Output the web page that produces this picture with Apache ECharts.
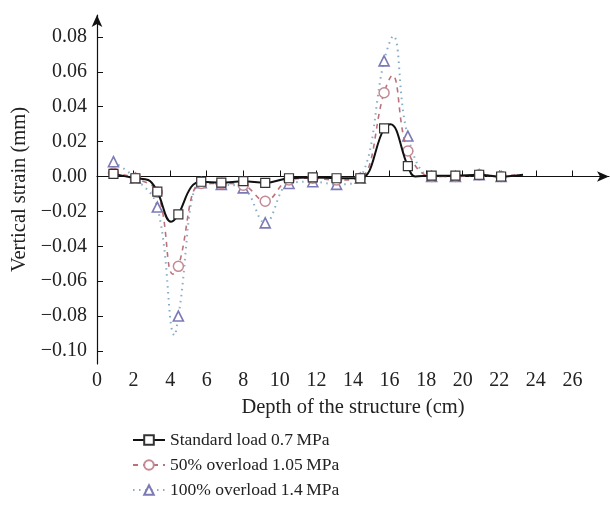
<!DOCTYPE html>
<html>
<head>
<meta charset="utf-8">
<script src="https://cdn.jsdelivr.net/npm/echarts@6/dist/echarts.min.js"></script>
<style>html,body{margin:0;padding:0;background:#fff}#c{width:610px;height:516px}</style>
</head>
<body>
<div id="c"></div>
<script>
// Depth positions of the markers (cm)
const depth = [0.9, 2.1, 3.3, 4.45, 5.7, 6.8, 8.0, 9.2, 10.5, 11.8, 13.1, 14.4, 15.7, 17.0, 18.3, 19.6, 20.9, 22.1];
// Marker values (mm)
const standardLoad = [0.0015, -0.001, -0.0087, -0.0217, -0.003, -0.0035, -0.0027, -0.0036, -0.001, -0.0005, -0.001, -0.001, 0.0276, 0.0059, 0.0005, 0.0005, 0.001, 0.0];
const overload50 = [0.002, -0.001, -0.009, -0.0515, -0.004, -0.004, -0.005, -0.0142, -0.002, -0.001, -0.002, -0.001, 0.048, 0.0146, 0.0, 0.0, 0.001, 0.0];
const overload100 = [0.0085, -0.001, -0.0175, -0.080, -0.0035, -0.0045, -0.0065, -0.0266, -0.004, -0.003, -0.0045, -0.001, 0.0663, 0.0232, 0.0, 0.0, 0.001, 0.0];
// Additional points of each curve between markers (peaks / troughs / end), unmarked
const standardCurve = [[2.8, -0.002], [4.05, -0.026], [5.15, -0.006], [16.05, 0.030], [17.4, 0.0], [23.3, 0.001]];
const overload50Curve = [[4.15, -0.056], [16.15, 0.058], [23.0, 0.001]];
const overload100Curve = [[4.25, -0.091], [16.2, 0.0806], [23.0, 0.001]];
// Axis ticks
const xTicks = [0, 2, 4, 6, 8, 10, 12, 14, 16, 18, 20, 22, 24, 26];
const yTicks = [-0.10, -0.08, -0.06, -0.04, -0.02, 0.00, 0.02, 0.04, 0.06, 0.08];
const seriesNames = ['Standard load 0.7\u2009MPa', '50% overload 1.05\u2009MPa', '100% overload 1.4\u2009MPa'];

function build(xs, ys, extra) {
  const pts = xs.map((x, i) => ({ value: [x, ys[i]] }));
  extra.forEach(p => pts.push({ value: [p[0], p[1]], symbol: 'none' }));
  pts.sort((a, b) => a.value[0] - b.value[0]);
  return pts;
}

const FONT = '"Liberation Serif", "DejaVu Serif", serif';
const chart = echarts.init(document.getElementById('c'));
chart.setOption({
  animation: false,
  backgroundColor: '#fff',
  grid: { left: 97, right: 1, top: 15, bottom: 152, containLabel: false },
  legend: {
    orient: 'vertical', left: 127, top: 426, itemWidth: 32, itemHeight: 12, itemGap: 7,
    textStyle: { fontFamily: FONT, fontSize: 17.5, color: '#222' },
    data: seriesNames
  },
  xAxis: {
    type: 'value', min: 0, max: 28,
    name: 'Depth of the structure (cm)', nameLocation: 'middle', nameGap: 33,
    nameTextStyle: { fontFamily: FONT, fontSize: 20.5, color: '#222' },
    axisLine: { show: true, lineStyle: { color: '#111', width: 1.2 }, symbol: ['none', 'arrow'], symbolSize: [8, 12] },
    axisTick: { show: true, inside: true, length: 6, lineStyle: { color: '#111' }, customValues: xTicks.slice(1) },
    axisLabel: { customValues: xTicks, fontFamily: FONT, fontSize: 20, color: '#222', margin: 7 },
    splitLine: { show: false }
  },
  yAxis: {
    type: 'value', min: -0.1075, max: 0.0926,
    name: 'Vertical strain (mm)', nameLocation: 'middle', nameGap: 65,
    nameTextStyle: { fontFamily: FONT, fontSize: 20.5, color: '#222' },
    axisLine: { show: true, lineStyle: { color: '#111', width: 1.2 }, symbol: ['none', 'arrow'], symbolSize: [8, 12] },
    axisTick: { show: true, inside: true, length: 6, lineStyle: { color: '#111' }, customValues: yTicks },
    axisLabel: {
      customValues: yTicks, fontFamily: FONT, fontSize: 20, color: '#222', margin: 10,
      formatter: v => (v < 0 ? '\u2212' : '') + Math.abs(v).toFixed(2)
    },
    splitLine: { show: false }
  },
  series: [
    {
      name: seriesNames[2], type: 'line', smooth: 0.4, z: 1,
      data: build(depth, overload100, overload100Curve),
      symbol: 'triangle', symbolSize: 10, showAllSymbol: true,
      lineStyle: { color: '#86aec6', width: 2, type: [1.5, 4.5] },
      itemStyle: { color: '#fff', borderColor: '#7c7ab6', borderWidth: 1.6 }
    },
    {
      name: seriesNames[1], type: 'line', smooth: 0.4, z: 2,
      data: build(depth, overload50, overload50Curve),
      symbol: 'circle', symbolSize: 10, showAllSymbol: true,
      lineStyle: { color: '#b9727a', width: 1.6, type: [5, 5] },
      itemStyle: { color: '#fff', borderColor: '#c48a94', borderWidth: 1.5 }
    },
    {
      name: seriesNames[0], type: 'line', smooth: 0.4, z: 3,
      data: build(depth, standardLoad, standardCurve),
      symbol: 'rect', symbolSize: 9, showAllSymbol: true,
      lineStyle: { color: '#111', width: 2 },
      itemStyle: { color: '#fff', borderColor: '#333', borderWidth: 1.2 }
    }
  ]
});
</script>
</body>
</html>
